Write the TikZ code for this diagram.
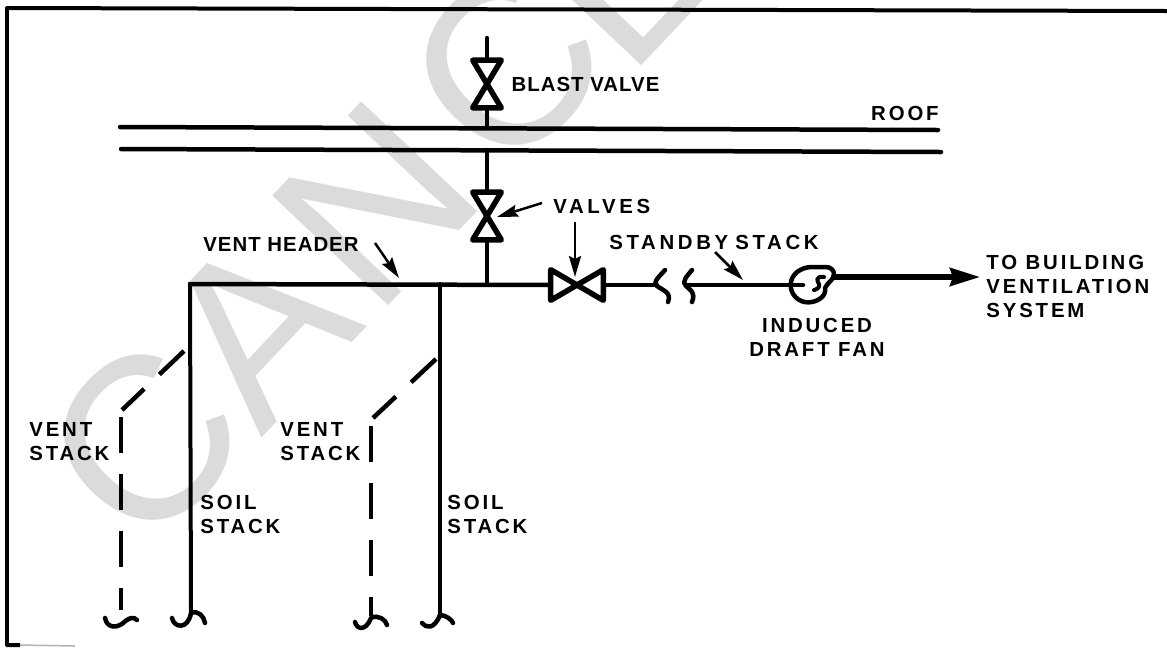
\documentclass[tikz,border=0pt]{standalone}
\usepackage{fontspec}
\usepackage{tikz}
\usetikzlibrary{positioning, arrows.meta}
\newfontfamily\tagwide[LetterSpace=14]{Liberation Sans}
\newfontfamily\tagwider[LetterSpace=18]{Liberation Sans}
\newfontfamily\tagtight[LetterSpace=5]{Liberation Sans}
\newfontfamily\stampfont{Liberation Sans}

\begin{document}
\begin{tikzpicture}[
        x=0.02cm, y=-0.02cm,
        % Define styles for the piping diagram elements
        pipe/.style={line width=0.09cm, line join=round, line cap=round},
        soil/.style={line width=0.08cm, line join=round, line cap=round},
        vent/.style={line width=0.09cm, dash pattern=on 0.72cm off 0.42cm},
        bowtie/.style={line width=0.11cm, line join=round},
        leader/.style={line width=0.05cm, -{Stealth[length=0.42cm, width=0.24cm, inset=0.06cm]}},
        outlet/.style={line width=0.11cm, -{Stealth[length=0.6cm, width=0.36cm, inset=0.06cm]}},
        valve/.style={rectangle, inner sep=0pt, minimum width=0.56cm, minimum height=0.94cm},
        sidevalve/.style={rectangle, inner sep=0pt, minimum width=1.04cm, minimum height=0.6cm},
        tag/.style={inner sep=0pt, align=left, font=\fontsize{11.6pt}{13.6pt}\selectfont\tagwide\bfseries},
        tagtightened/.style={tag, font=\fontsize{11.6pt}{13.6pt}\selectfont\tagtight\bfseries},
        tagspread/.style={tag, font=\fontsize{11.6pt}{13.6pt}\selectfont\tagwider\bfseries}
    ]
        \useasboundingbox (0,0) rectangle (1167,647);

        % --------------------------------------------------------
        % Stamp across the sheet
        % --------------------------------------------------------
        \begin{scope}
            \clip (0,0) rectangle (1167,647);
            \node[anchor=base west, inner sep=0pt, rotate=46.6, text=black!14,
                font=\fontsize{132pt}{132pt}\selectfont\stampfont] (stamp) at (144,558)
                {C\raisebox{-0.06cm}{A}\kern0.2cm\raisebox{-0.08cm}{N}\kern0.43cm\raisebox{-0.11cm}{C}\kern-0.16cm\raisebox{-0.46cm}{E}};
        \end{scope}

        % Sheet border
        \coordinate (framebl) at (7,645);
        \coordinate (frametl) at (7,8);
        \coordinate (frametr) at (1167,11);
        \coordinate (framestub) at (20,645);
        \coordinate (framefade) at (75,646);
        \draw[soil, line cap=butt] (framestub) -- (framebl) -- (frametl) -- (frametr);
        \draw[line width=0.03cm, black!30] (framestub) -- (framefade);

        % --------------------------------------------------------
        % Roof
        % --------------------------------------------------------
        \coordinate (roofal) at (120,127);
        \coordinate (roofar) at (938,130);
        \coordinate (roofbl) at (121,149);
        \coordinate (roofbr) at (941,152);
        \draw[pipe] (roofal) -- (roofar);
        \draw[pipe] (roofbl) -- (roofbr);
        \node[tag, anchor=base east] (roof) at (939,120) {ROOF};

        % --------------------------------------------------------
        % Riser with its two valves
        % --------------------------------------------------------
        \node[valve] (blast) at (487,84) {};
        \node[valve] (upvalve) at (487,216) {};
        \coordinate (riserend) at (487,38);
        \coordinate (roofa) at (487,128);
        \coordinate (roofb) at (487,150);
        \coordinate (tee) at (487,284);

        \draw[bowtie] (blast.north west) -- (blast.south east) -- (blast.south west) -- (blast.north east) -- cycle;
        \draw[bowtie] (upvalve.north west) -- (upvalve.south east) -- (upvalve.south west) -- (upvalve.north east) -- cycle;
        \draw[pipe] (riserend) -- (blast.north);
        \draw[pipe] (blast.south) -- (roofa);
        \draw[pipe] (roofb) -- (upvalve.north);
        \draw[pipe] (upvalve.south) -- (tee);

        \node[tagtightened, right=0.2cm of blast] (blastlabel) {BLAST VALVE};
        \node[tagspread, anchor=base west] (valveslabel) at (553,213) {VALVES};
        \coordinate (valvesa) at (542,203);
        \coordinate (valvesb) at (575,222);
        \draw[leader] (valvesa) -- (497,217);

        % --------------------------------------------------------
        % Header, side valve and fan
        % --------------------------------------------------------
        \coordinate (headerl) at (190,284);
        \coordinate (soilb) at (440,284);
        \node[sidevalve] (sidev) at (577,285) {};
        \draw[bowtie] (sidev.north west) -- (sidev.south east) -- (sidev.north east) -- (sidev.south west) -- cycle;
        \draw[pipe] (headerl) -- (sidev.west);
        \draw[leader] (valvesb) -- (575,277);

        \node[tagtightened, anchor=base west] (headerlabel) at (203,251) {VENT HEADER};
        \coordinate (headertail) at (375,243);
        \draw[leader] (headertail) -- (399,278);

        % break in the stack
        \coordinate (breaka) at (657,285);
        \coordinate (breakb) at (686,285);
        \draw[pipe] (sidev.east) -- (breaka);
        \draw[pipe] (665,270) .. controls (660,276) and (652,282) .. (657,286) .. controls (662,290) and (672,292) .. (668,302);
        \draw[pipe] (692,270) .. controls (687,276) and (681,282) .. (686,286) .. controls (690,290) and (696,292) .. (692,302);

        \node[circle, inner sep=0pt, minimum size=0.68cm] (fan) at (808,285) {};
        \draw[pipe] (breakb) -- (803,285);
        \draw[pipe] (fan.-10) to[out=-80, in=0] (fan.south) to[out=180, in=-90] (fan.west)
            to[out=90, in=180] (812,267) -- (826,267) to[out=0, in=90] (834,274) to[out=-90, in=70] (fan.-10);
        \draw[soil] (824,277) .. controls (815,276) and (817,281) .. (819,284) .. controls (820,287) and (818,289) .. (814,290);
        \coordinate (fanout) at (834,277);
        \coordinate (fanend) at (980,277);
        \draw[outlet] (fanout) -- (fanend);

        \node[tagspread, anchor=base west] (standby) at (609,249) {STANDBY\hspace{0.14cm}STACK};
        \coordinate (standbytail) at (715,252);
        \draw[leader] (standbytail) -- (743,280);

        \node[tag, align=center, anchor=north] (fanlabel) at (817,318) {INDUCED\\DRAFT FAN};
        \node[tag, anchor=north west] (building) at (986,255) {TO BUILDING\\VENTILATION\\SYSTEM};

        % --------------------------------------------------------
        % Soil stacks
        % --------------------------------------------------------
        \coordinate (soilaend) at (191,613);
        \coordinate (soilbend) at (440,615);
        \draw[soil] (headerl) -- (soilaend);
        \draw[soil] (soilb) -- (soilbend);
        \draw[pipe] (172,618) .. controls (174,628) and (188,630) .. (soilaend) .. controls (198,610) and (204,616) .. (205,623);
        \draw[pipe] (422,623) .. controls (426,628) and (434,630) .. (soilbend) .. controls (446,615) and (452,620) .. (453,623);

        \node[tag, anchor=north west] (soilalabel) at (200,495) {SOIL\\STACK};
        \node[tag, anchor=north west] (soilblabel) at (447,495) {SOIL\\STACK};

        % --------------------------------------------------------
        % Vent stacks
        % --------------------------------------------------------
        \coordinate (ventatop) at (184,351);
        \coordinate (ventabend) at (122,410);
        \coordinate (ventaa) at (121,417);
        \coordinate (ventaend) at (121,610);
        \draw[vent, dash pattern=on 0.68cm off 0.42cm] (ventatop) -- (ventabend);
        \draw[vent] (ventaa) -- (ventaend);
        \draw[pipe] (105,618) .. controls (107,628) and (116,628) .. (122,624) .. controls (128,618) and (134,616) .. (137,620);

        \coordinate (ventbtop) at (436,359);
        \coordinate (ventbbend) at (373,418);
        \coordinate (ventba) at (371,426);
        \coordinate (ventbend) at (371,616);
        \draw[vent, dash pattern=on 0.68cm off 0.42cm] (ventbtop) -- (ventbbend);
        \draw[vent] (ventba) -- (ventbend);
        \draw[pipe] (355,622) .. controls (357,630) and (366,631) .. (371,618) .. controls (378,614) and (386,620) .. (387,625);

        \node[tag, anchor=north west] (ventalabel) at (29,422) {VENT\\STACK};
        \node[tag, anchor=north west] (ventblabel) at (280,422) {VENT\\STACK};

    \end{tikzpicture}
\end{document}
